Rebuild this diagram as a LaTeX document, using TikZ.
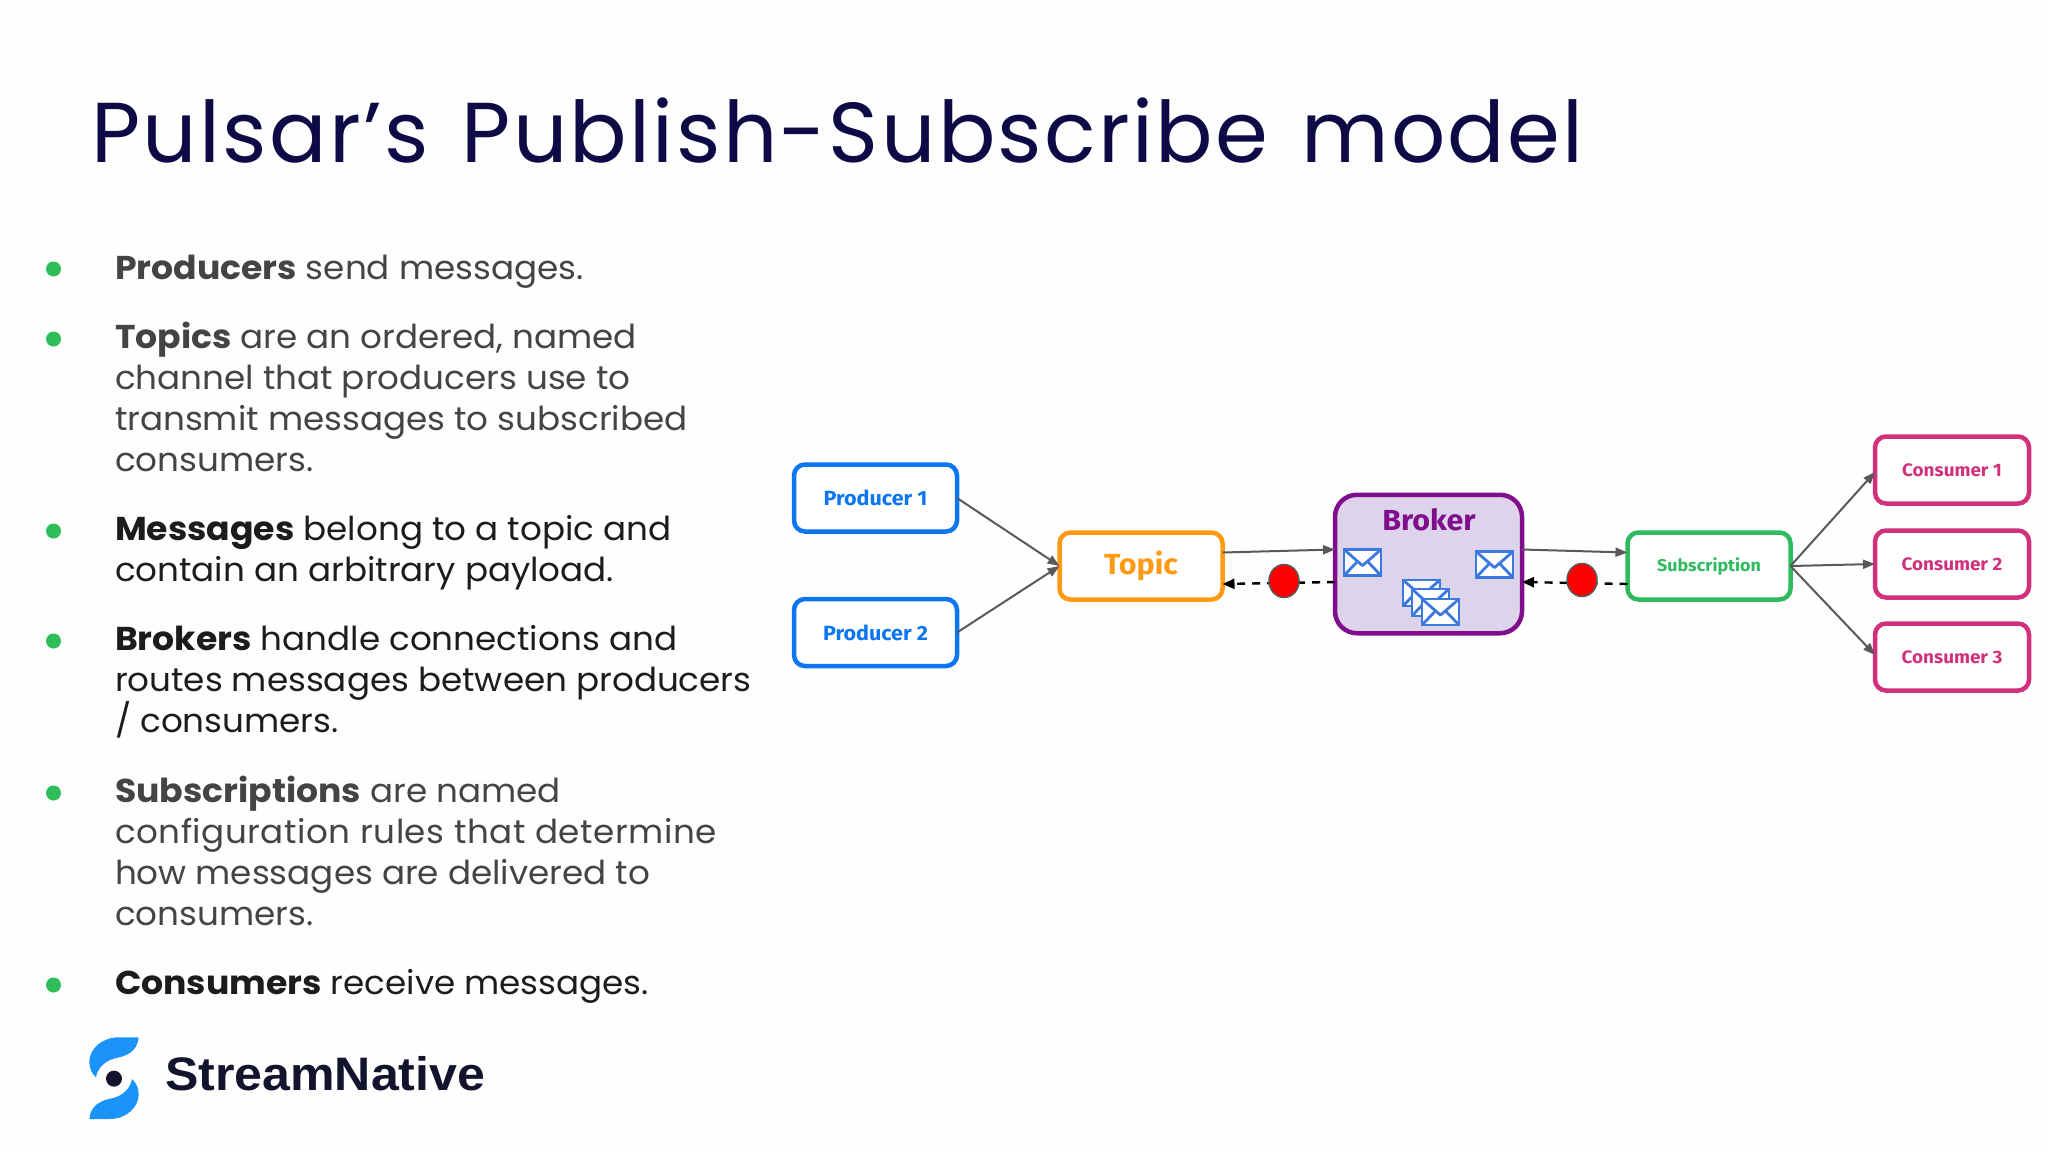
\documentclass[tikz,border=0pt]{standalone}
\usepackage{fontspec}
\setmainfont{Poppins}[FakeStretch=1.035,BoldFeatures={FakeStretch=1.05}]
\newfontfamily\titlefont{Poppins}[LetterSpace=2.8,WordSpace=1.3]
\newfontfamily\labelfont{Fira Sans}[FakeStretch=1.05]
\newfontfamily\logofont{Liberation Sans}[FakeStretch=1.065]
\usetikzlibrary{arrows.meta,calc,shapes.geometric}
\definecolor{bgc}{HTML}{FEFEFE}
\definecolor{titlec}{HTML}{0D0A45}
\definecolor{grayt}{HTML}{444444}
\definecolor{darkt}{HTML}{1C1C1C}
\definecolor{bulletc}{HTML}{2EBD59}
\definecolor{blueb}{HTML}{0B76F0}
\definecolor{orangeb}{HTML}{FF9A14}
\definecolor{purpleb}{HTML}{800E8C}
\definecolor{brokerfill}{HTML}{DDD3EA}
\definecolor{greenb}{HTML}{2DBB5E}
\definecolor{pinkb}{HTML}{D1307C}
\definecolor{envc}{HTML}{3B78E0}
\definecolor{arrowc}{HTML}{595959}
\definecolor{logob}{HTML}{1A94FA}
\definecolor{logod}{HTML}{13132E}
\tikzset{
  x=1pt,y=-1pt,
  bodytext/.style={anchor=base west,inner sep=0,outer sep=0,font=\fontsize{33}{33}\selectfont},
  graytext/.style={bodytext,text=grayt},
  darktext/.style={bodytext,text=darkt},
  bulletdot/.style={circle,fill=bulletc,minimum size=15pt,inner sep=0,outer sep=0},
  boxnode/.style={draw,rounded corners=11pt,line width=4.5pt,fill=white,inner sep=0,outer sep=0,minimum width=163pt,minimum height=67pt,font=\labelfont\bfseries\fontsize{20.5}{20.5}\selectfont},
  prodbox/.style={boxnode,draw=blueb,text=blueb},
  consbox/.style={boxnode,draw=pinkb,text=pinkb,minimum width=154pt,font=\labelfont\bfseries\fontsize{18}{18}\selectfont},
  flow/.style={draw=arrowc,line width=2pt,-{Triangle[length=12pt,width=9pt]}},
  back/.style={draw=black,line width=2.4pt,dash pattern=on 8pt off 7pt,-{Triangle[length=12pt,width=10pt]}},
  reddot/.style={ellipse,draw=arrowc,line width=1.5pt,fill=red,minimum width=30pt,minimum height=33pt,inner sep=0,outer sep=0},
  env/.style={draw=envc,line width=2.8pt,fill=white},
}
\newcommand{\envelope}[4]{% x1 y1 x2 y2
  \filldraw[env] (#1,#2) rectangle (#3,#4);
  \draw[env,fill=none,line join=round] (#1,#2) -- ({(#1+#3)/2},{#2+0.62*(#4-#2)}) -- (#3,#2);
  \draw[env,fill=none] (#1,#4) -- ({#1+0.37*(#3-#1)},{#2+0.45*(#4-#2)});
  \draw[env,fill=none] (#3,#4) -- ({#3-0.37*(#3-#1)},{#2+0.45*(#4-#2)});
}
\begin{document}
\begin{tikzpicture}
\path[use as bounding box,fill=bgc] (0,0) rectangle (2048,1152);
\node[anchor=base west,inner sep=0,text=titlec,font=\titlefont\fontsize{85}{85}\selectfont] (title) at (91,162) {Pulsar’s Publish-Subscribe model};

\node[bulletdot] (b1) at (53.5,269) {};
\node[graytext] (l1) at (115,279) {\textbf{Producers} send messages.};
\node[bulletdot] (b2) at (53.5,339) {};
\node[graytext] (l2) at (115,348) {\textbf{Topics} are an ordered, named};
\node[graytext] (l3) at (115,389) {channel that producers use to};
\node[graytext] (l4) at (115,430) {transmit messages to subscribed};
\node[graytext] (l5) at (115,471) {consumers.};
\node[bulletdot] (b3) at (53.5,531) {};
\node[darktext] (l6) at (115,540) {\textbf{Messages} belong to a topic and};
\node[darktext] (l7) at (115,581) {contain an arbitrary payload.};
\node[bulletdot] (b4) at (53.5,641) {};
\node[darktext] (l8) at (115,650) {\textbf{Brokers} handle connections and};
\node[darktext] (l9) at (115,691) {routes messages between producers};
\node[darktext] (l10) at (115,732) {/ consumers.};
\node[bulletdot] (b5) at (53.5,793) {};
\node[graytext] (l11) at (115,802) {\textbf{Subscriptions} are named};
\node[graytext] (l12) at (115,843) {\addfontfeature{LetterSpace=1.6}configuration rules that determine};
\node[graytext] (l13) at (115,884) {how messages are delivered to};
\node[graytext] (l14) at (115,925) {consumers.};
\node[bulletdot] (b6) at (53.5,985) {};
\node[darktext] (l15) at (115,994) {\textbf{Consumers} receive messages.};

% logo
\begin{scope}[shift={(60,1020)},x=0.3333pt,y=-0.3333pt]
\fill[logob] (236,52) -- (175,52) .. controls (125,52) and (88,88) .. (88,125) .. controls (88,145) and (95,160) .. (108,172) .. controls (112,145) and (135,122) .. (165,115) .. controls (200,108) and (232,95) .. (236,52) -- cycle;
\fill[logob] (88,297) -- (149,297) .. controls (199,297) and (236,261) .. (236,224) .. controls (236,204) and (229,189) .. (216,177) .. controls (212,204) and (189,227) .. (159,234) .. controls (124,241) and (92,254) .. (88,297) -- cycle;
\fill[logod] (162,176) circle [radius=24];
\end{scope}
\node[anchor=base west,inner sep=0,text=logod,font=\logofont\bfseries\fontsize{47}{47}\selectfont] (logotext) at (165,1090) {StreamNative};

% diagram
\node[prodbox] (p1) at (875.5,498) {Producer 1};
\node[prodbox] (p2) at (875.5,632.5) {Producer 2};
\node[boxnode,draw=orangeb,text=orangeb,font=\labelfont\bfseries\fontsize{29}{29}\selectfont] (topic) at (1141,566) {Topic};
\node[boxnode,draw=purpleb,fill=brokerfill,rounded corners=22pt,minimum width=187pt,minimum height=138.5pt] (broker) at (1428.5,564) {};
\node[anchor=base,inner sep=0,text=purpleb,font=\labelfont\bfseries\fontsize{29}{29}\selectfont] (brokerlabel) at (1429,530) {Broker};
\node[boxnode,draw=greenb,text=greenb,font=\labelfont\bfseries\fontsize{17}{17}\selectfont] (sub) at (1709,566) {Subscription};
\node[consbox] (c1) at (1952,470) {Consumer 1};
\node[consbox] (c2) at (1952,564) {Consumer 2};
\node[consbox] (c3) at (1952,657) {Consumer 3};

\draw[flow] (p1.east) -- (topic.west);
\draw[flow] (p2.east) -- (topic.west);
\draw[flow] ([yshift=13.5pt]topic.east) -- ([yshift=14.5pt]broker.west);
\draw[flow] ([yshift=14.5pt]broker.east) -- ([yshift=13.5pt]sub.west);
\draw[flow] (sub.east) -- ([yshift=-2pt]c1.west);
\draw[flow] (sub.east) -- (c2.west);
\draw[flow] (sub.east) -- ([yshift=2pt]c3.west);
\draw[back] ([yshift=-18pt]broker.west) -- ([yshift=-18pt]topic.east);
\draw[back] ([yshift=-18pt]sub.west) -- ([yshift=-18pt]broker.east);
\node[reddot] (r1) at (1284,581) {};
\node[reddot] (r2) at (1582,580) {};

\envelope{1344}{549.5}{1381}{575.5}
\envelope{1476}{551.5}{1513}{577.5}
\envelope{1403}{580}{1440}{606}
\envelope{1412}{589}{1449}{616}
\envelope{1422}{599}{1459}{625}
\end{tikzpicture}
\end{document}
